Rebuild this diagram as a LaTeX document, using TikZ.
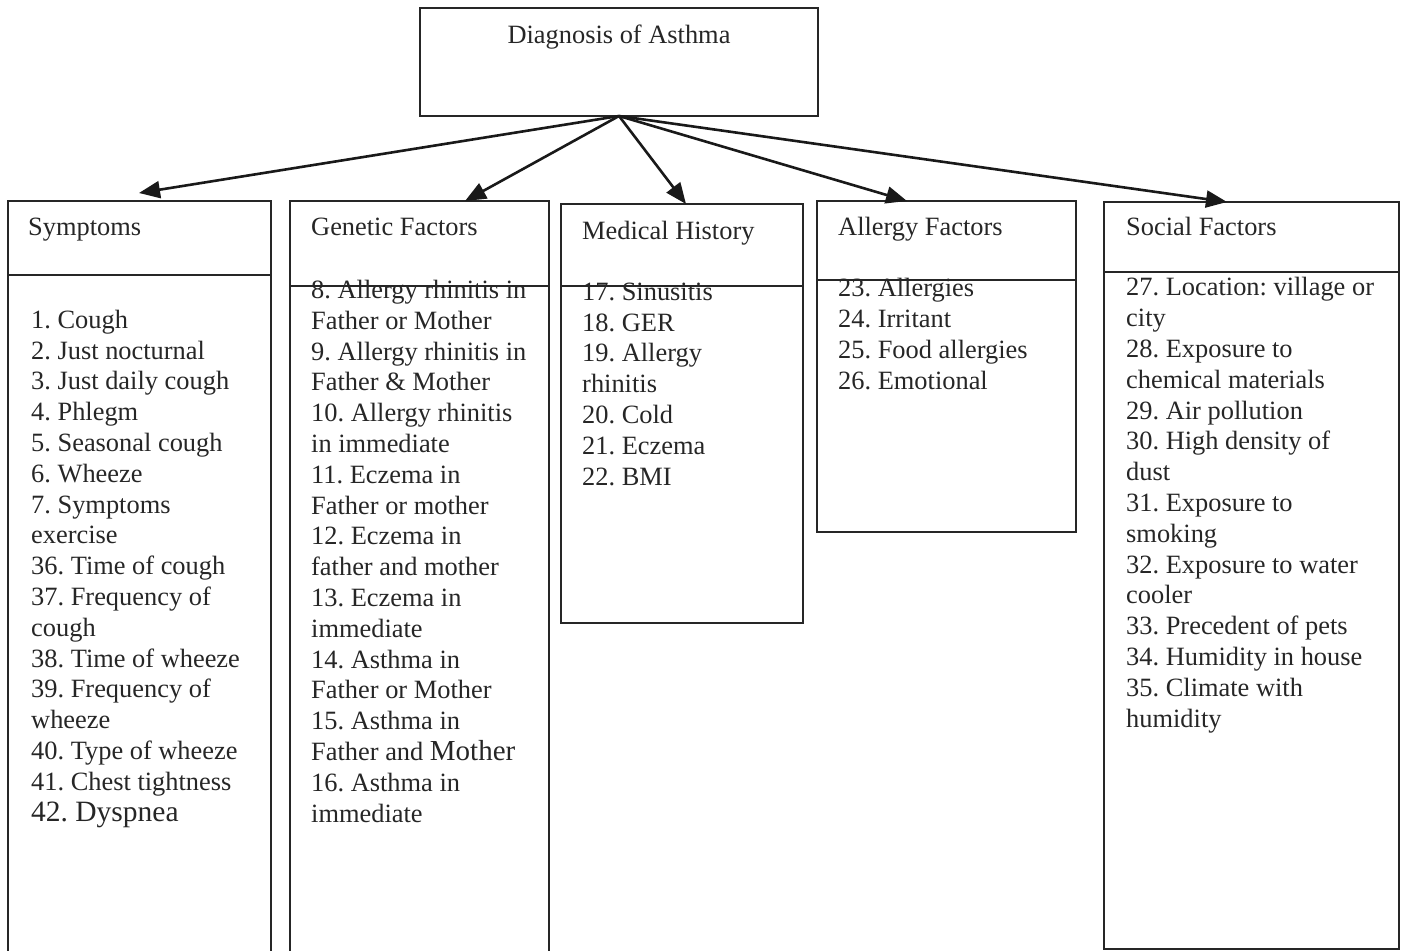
\documentclass[tikz,border=0pt]{standalone}
\usepackage{fontspec}
\setmainfont{Liberation Serif}
\usetikzlibrary{arrows.meta}
\frenchspacing
\begin{document}
\begin{tikzpicture}[x=1pt,y=-1pt,
  box/.style={draw=black!85, line width=1.8pt, anchor=north west, inner sep=0pt, outer sep=0pt},
  txt/.style={anchor=base west, align=left, inner sep=0pt, font=\frenchspacing\fontsize{26.4}{30.8}\selectfont, text=black!85},
  arr/.style={line width=2.6pt, draw=black!90, -{Triangle[length=21pt,width=17pt]}}]
\useasboundingbox (0,0) rectangle (1404,950);
% title
\node[box, minimum width=398pt, minimum height=108pt] (diag) at (420,8) {};
\node[txt, anchor=base] (diagt) at (619,44) {Diagnosis of Asthma};
% Symptoms
\node[box, minimum width=263pt, minimum height=74pt] (symh) at (8,201) {};
\node[box, minimum width=263pt, minimum height=690pt] (symb) at (8,275) {};
\node[txt] (symt) at (28,235) {Symptoms};
\node[txt] (syml) at (31,821) {1. Cough\\2. Just nocturnal\\3. Just daily cough\\4. Phlegm\\5. Seasonal cough\\6. Wheeze\\7. Symptoms\\exercise\\36. Time of cough\\37. Frequency of\\cough\\38. Time of wheeze\\39. Frequency of\\wheeze\\40. Type of wheeze\\41. Chest tightness\\{\fontsize{29.5}{30.8}\selectfont 42. Dyspnea}};
% Genetic
\node[box, minimum width=259pt, minimum height=85pt] (genh) at (290,201) {};
\node[box, minimum width=259pt, minimum height=680pt] (genb) at (290,286) {};
\node[txt] (gent) at (311,235) {Genetic Factors};
\node[txt] (genl) at (311,822) {8. Allergy rhinitis in\\Father or Mother\\9. Allergy rhinitis in\\Father \& Mother\\10. Allergy rhinitis\\in immediate\\11. Eczema in\\Father or mother\\12. Eczema in\\father and mother\\13. Eczema in\\immediate\\14. Asthma in\\Father or Mother\\15. Asthma in\\Father and {\fontsize{29}{30.8}\selectfont Mother}\\16. Asthma in\\immediate};
% Medical
\node[box, minimum width=242pt, minimum height=82pt] (medh) at (561,204) {};
\node[box, minimum width=242pt, minimum height=337pt] (medb) at (561,286) {};
\node[txt] (medt) at (582,239) {Medical History};
\node[txt] (medl) at (582,485) {17. Sinusitis\\18. GER\\19. Allergy\\rhinitis\\20. Cold\\21. Eczema\\22. BMI};
% Allergy
\node[box, minimum width=259pt, minimum height=79pt] (allh) at (817,201) {};
\node[box, minimum width=259pt, minimum height=252pt] (allb) at (817,280) {};
\node[txt] (allt) at (838,235) {Allergy Factors};
\node[txt] (alll) at (838,389) {23. Allergies\\24. Irritant\\25. Food allergies\\26. Emotional};
% Social
\node[box, minimum width=295pt, minimum height=70pt] (soch) at (1104,202) {};
\node[box, minimum width=295pt, minimum height=677pt] (socb) at (1104,272) {};
\node[txt] (soct) at (1126,235) {Social Factors};
\node[txt] (socl) at (1126,727) {27. Location: village or\\city\\28. Exposure to\\chemical materials\\29. Air pollution\\30. High density of\\dust\\31. Exposure to\\smoking\\32. Exposure to water\\cooler\\33. Precedent of pets\\34. Humidity in house\\35. Climate with\\humidity};
% arrow tips
\coordinate (tsym) at (139,193);
\coordinate (tgen) at (465,201);
\coordinate (tmed) at (686,204);
\coordinate (tall) at (907,201);
\coordinate (tsoc) at (1227,202);
\draw[arr] (diag.south) -- (tsym);
\draw[arr] (diag.south) -- (tgen);
\draw[arr] (diag.south) -- (tmed);
\draw[arr] (diag.south) -- (tall);
\draw[arr] (diag.south) -- (tsoc);
\end{tikzpicture}
\end{document}
